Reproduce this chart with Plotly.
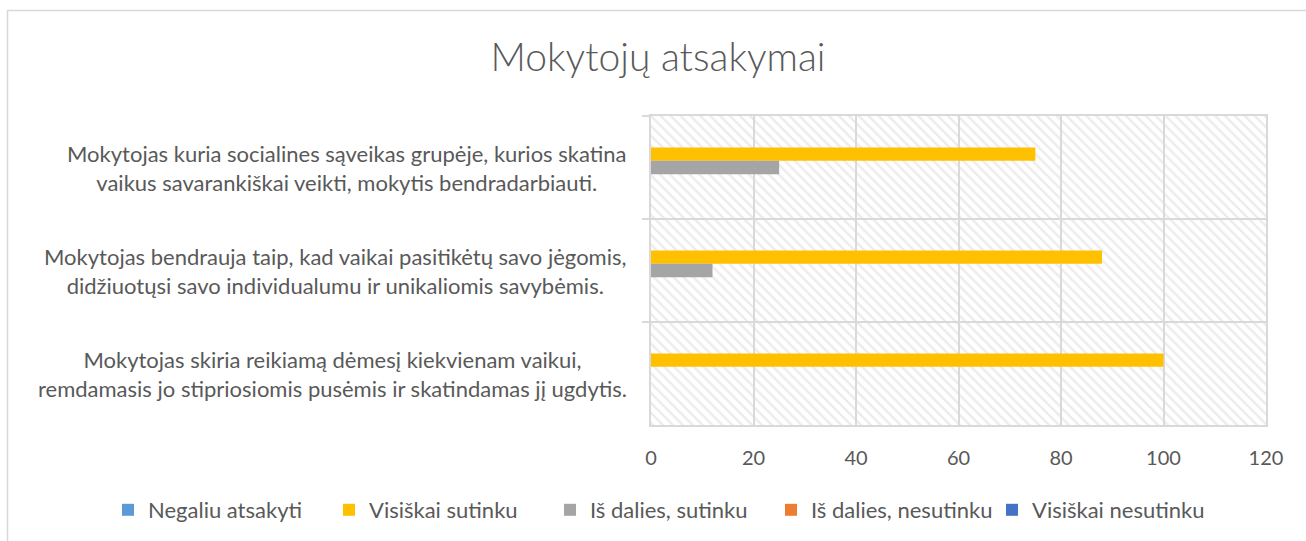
import plotly.graph_objects as go

categories = [
    "Mokytojas kuria socialines sąveikas grupėje, kurios skatina<br>vaikus savarankiškai veikti, mokytis bendradarbiauti.",
    "Mokytojas bendrauja taip, kad vaikai pasitikėtų savo jėgomis,<br>didžiuotųsi savo individualumu ir unikaliomis savybėmis.",
    "Mokytojas skiria reikiamą dėmesį kiekvienam vaikui,<br>remdamasis jo stipriosiomis pusėmis ir skatindamas jį ugdytis.",
]
series_names = [
    "Negaliu atsakyti",
    "Visiškai sutinku",
    "Iš dalies, sutinku",
    "Iš dalies, nesutinku",
    "Visiškai nesutinku",
]
negaliu = [0, 0, 0]
visiskai_sutinku = [75, 88, 100]
is_dalies_sutinku = [25, 12, 0]
is_dalies_nesutinku = [0, 0, 0]
visiskai_nesutinku = [0, 0, 0]
series_values = [negaliu, visiskai_sutinku, is_dalies_sutinku, is_dalies_nesutinku, visiskai_nesutinku]
colors = ["#5B9BD5", "#FFC000", "#A5A5A5", "#ED7D31", "#4472C4"]
x_ticks = [0, 20, 40, 60, 80, 100, 120]
AXIS_MAX = 120

FONT = "Lato"
TXT = "#595959"
GRID = "#d9d9d9"

W, H = 1306, 541
L, R, T, B = 651, 40, 116, 116
pw, ph = W - L - R, H - T - B

def px_x(px):
    return (px - L) / pw

def px_y(py):
    return (H - B - py) / ph

fig = go.Figure()

# hatched plot-area background
fig.add_trace(go.Bar(
    x=[AXIS_MAX], y=[0], orientation="h", width=1, base=0,
    marker=dict(color="rgba(0,0,0,0)", line=dict(width=0),
                pattern=dict(shape="\\", fgcolor="#d9d9d9", bgcolor="rgba(0,0,0,0)",
                             size=7, solidity=0.35)),
    showlegend=False, hoverinfo="skip", xaxis="x", yaxis="y",
))

for name, vals, col in zip(series_names, series_values, colors):
    fig.add_trace(go.Bar(
        name=name, y=categories, x=vals, orientation="h",
        marker=dict(color=col, line=dict(width=0)),
        xaxis="x2", yaxis="y2",
    ))

for cat in categories:
    fig.add_annotation(
        text=cat, xref="paper", x=0, xanchor="right", xshift=-22,
        yref="y2", y=cat, yanchor="middle", showarrow=False, align="center",
        font=dict(family=FONT, size=22, color=TXT),
    )

# chart-area border
fig.add_shape(type="rect", xref="paper", yref="paper",
              x0=px_x(7.5), x1=px_x(1320), y0=px_y(10.5), y1=px_y(560),
              line=dict(color=GRID, width=1.5), fillcolor="rgba(0,0,0,0)", layer="below")

fig.update_layout(
    width=W, height=H,
    margin=dict(l=L, r=R, t=T, b=B, autoexpand=False),
    paper_bgcolor="white", plot_bgcolor="white",
    barmode="group", bargap=0.35, bargroupgap=0,
    font=dict(family=FONT, color=TXT),
    title=dict(text="Mokytojų atsakymai", x=658 / W, xanchor="center",
               y=1 - 57 / H, yanchor="middle", xref="container", yref="container",
               font=dict(family=FONT, size=39, color=TXT, weight=300)),
    xaxis=dict(range=[0, AXIS_MAX], tickvals=x_ticks, showgrid=True, gridcolor=GRID,
               gridwidth=1.5, zeroline=False, showline=True, mirror=True,
               linecolor=GRID, linewidth=1.5, ticks="", ticklabelstandoff=14,
               tickfont=dict(family=FONT, size=20, color=TXT), fixedrange=True),
    yaxis=dict(range=[-0.5, 0.5], visible=True, showticklabels=False, showgrid=False,
               zeroline=False, showline=True, mirror=True, linecolor=GRID, linewidth=1.5,
               ticks=""),
    xaxis2=dict(overlaying="x", range=[0, AXIS_MAX], visible=False, matches="x"),
    yaxis2=dict(overlaying="y", side="left", type="category", categoryorder="array",
                categoryarray=categories, autorange="reversed", tickson="boundaries",
                showgrid=True, gridcolor=GRID, gridwidth=1.5, ticks="outside", ticklen=8,
                tickcolor=GRID, tickwidth=1.5, showticklabels=False, showline=False,
                zeroline=False),
    legend=dict(orientation="h", xref="paper", x=px_x(108), xanchor="left",
                yref="paper", y=px_y(510), yanchor="middle",
                entrywidth=176, entrywidthmode="pixels",
                font=dict(family=FONT, size=22, color=TXT), traceorder="normal",
                itemclick=False),
)

fig.write_html("out.html", config={"displayModeBar": False},
               post_script="document.body.style.margin='0';")
